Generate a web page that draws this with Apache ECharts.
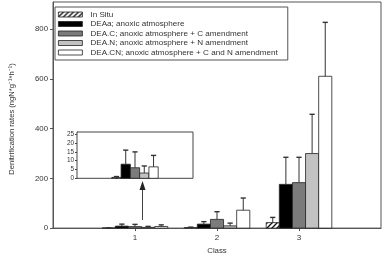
<!DOCTYPE html>
<html>
<head>
<meta charset="utf-8">
<script src="https://cdn.jsdelivr.net/npm/echarts@6/dist/echarts.min.js"></script>
<style>
html,body{margin:0;padding:0;background:#fff;}
#chart{width:384px;height:260px;}
</style>
</head>
<body>
<div id="chart"></div>
<script>
// classes on the x axis
var classes = [1, 2, 3];
var seriesNames = ['In Situ', 'DEAa; anoxic atmosphere', 'DEA.C; anoxic atmosphere + C amendment',
	'DEA.N; anoxic atmosphere + N amendment', 'DEA.CN; anoxic atmosphere + C and N amendment'];

// mean values per class
var inSitu = [0.5, 2, 22];
var deaA   = [8, 16, 176];
var deaC   = [6, 35, 183];
var deaN   = [3, 9, 300];
var deaCN  = [6.5, 72, 611];

// top of the error bar per class
var inSituTop = [1, 4, 43];
var deaATop   = [16, 26, 285];
var deaCTop   = [15, 66, 285];
var deaNTop   = [7, 20, 458];
var deaCNTop  = [13, 121, 828];

var yTicks = [0, 200, 400, 600, 800];
var insetTicks = [0, 5, 10, 15, 20, 25];

//斜线填充
function hatch(){
	var c = document.createElement('canvas');
	c.width = 5; c.height = 5;
	var g = c.getContext('2d');
	g.fillStyle = '#fff';
	g.fillRect(0, 0, 5, 5);
	g.strokeStyle = '#111';
	g.lineWidth = 1.3;
	g.beginPath();
	g.moveTo(0, 5); g.lineTo(5, 0);
	g.moveTo(-1, 1); g.lineTo(1, -1);
	g.moveTo(4, 6); g.lineTo(6, 4);
	g.stroke();
	return c;
}

var fills = [{image: hatch(), repeat: 'repeat'}, '#000000', '#7b7b7b', '#c2c2c2', '#ffffff'];
var values = [inSitu, deaA, deaC, deaN, deaCN];
var tops = [inSituTop, deaATop, deaCTop, deaNTop, deaCNTop];
var barW = 0.16;

function makeRender(k){
	return function(params, api){
		var x = api.value(0) + (k - 2) * barW;
		var v = api.value(1);
		var t = api.value(2);
		var p0 = api.coord([x - barW / 2, v]);
		var p1 = api.coord([x + barW / 2, 0]);
		var pt = api.coord([x, t]);
		var pv = api.coord([x, v]);
		var cap = 2.6;
		return {
			type: 'group',
			children: [{
				type: 'rect',
				shape: {x: p0[0], y: p0[1], width: p1[0] - p0[0], height: p1[1] - p0[1]},
				style: {fill: fills[k], stroke: '#222', lineWidth: 0.8}
			}, {
				type: 'line',
				shape: {x1: pv[0], y1: pv[1], x2: pt[0], y2: pt[1]},
				style: {stroke: '#333', lineWidth: 1}
			}, {
				type: 'line',
				shape: {x1: pt[0] - cap, y1: pt[1], x2: pt[0] + cap, y2: pt[1]},
				style: {stroke: '#333', lineWidth: 1.4}
			}]
		};
	};
}

var series = [];
for (var k = 0; k < 5; k++) {
	var d = [];
	for (var i = 0; i < classes.length; i++) {
		d.push([classes[i], values[k][i], tops[k][i]]);
	}
	series.push({
		name: seriesNames[k],
		type: 'custom',
		xAxisIndex: 0, yAxisIndex: 0,
		itemStyle: {color: fills[k]},
		renderItem: makeRender(k),
		data: d,
		z: 2
	});
	// inset: class 1 only
	series.push({
		name: seriesNames[k],
		type: 'custom',
		xAxisIndex: 1, yAxisIndex: 1,
		itemStyle: {color: fills[k]},
		renderItem: makeRender(k),
		data: [d[0]],
		z: 6
	});
}

var font = 'Liberation Sans, Arial, sans-serif';

option = {
	animation: false,
	textStyle: {fontFamily: font},
	grid: [{
		left: 44, right: 3, top: 2, bottom: 27,
		show: true, borderColor: '#555', borderWidth: 1
	}, {
		left: 77, top: 132, width: 116, height: 46.3,
		show: true, borderColor: '#444', borderWidth: 1, backgroundColor: '#fff', z: 5
	}],
	legend: {
		data: seriesNames,
		orient: 'vertical',
		left: 55, top: 7,
		icon: 'rect',
		itemWidth: 24, itemHeight: 5,
		itemGap: 0.5,
		padding: [3, 10, 3, 3],
		backgroundColor: '#fff',
		borderColor: '#555', borderWidth: 1,
		itemStyle: {borderColor: '#222', borderWidth: 0.8},
		textStyle: {fontSize: 8.1, color: '#333', lineHeight: 9, padding: [0, 0, 0, 3], fontFamily: font},
		selectedMode: false
	},
	xAxis: [{
		gridIndex: 0, type: 'value', min: 0, max: 4, interval: 1,
		name: 'Class', nameLocation: 'middle', nameGap: 18,
		nameTextStyle: {fontSize: 7.8, color: '#333'},
		axisLine: {lineStyle: {color: '#555'}},
		axisTick: {customValues: classes, length: 3, lineStyle: {color: '#555'}},
		axisLabel: {customValues: classes, fontSize: 8, color: '#333', margin: 6},
		splitLine: {show: false}
	}, {
		gridIndex: 1, type: 'value', min: 0, max: 2,
		axisLine: {show: false}, axisTick: {show: false}, axisLabel: {show: false},
		splitLine: {show: false}
	}],
	yAxis: [{
		gridIndex: 0, type: 'value', min: 0, max: 910, interval: 200,
		name: 'Denitrification rates (ngN*g⁻¹*h⁻¹)', nameLocation: 'middle', nameGap: 37,
		nameTextStyle: {fontSize: 7.6, color: '#333', padding: [0, 0, 0, -8]},
		axisLine: {show: true, lineStyle: {color: '#555'}},
		axisTick: {customValues: yTicks, length: 3, lineStyle: {color: '#555'}},
		axisLabel: {customValues: yTicks, fontSize: 7.8, color: '#333', margin: 5},
		splitLine: {show: false}
	}, {
		gridIndex: 1, type: 'value', min: 0, max: 26.3, interval: 5,
		axisLine: {show: true, lineStyle: {color: '#444'}},
		axisTick: {customValues: insetTicks, length: 2, lineStyle: {color: '#444'}},
		axisLabel: {customValues: insetTicks, fontSize: 6.4, color: '#333', margin: 3, lineHeight: 7},
		splitLine: {show: false}
	}],
	graphic: [{
		type: 'line', z: 10,
		shape: {x1: 142.5, y1: 220, x2: 142.5, y2: 188},
		style: {stroke: '#444', lineWidth: 1}
	}, {
		type: 'polygon', z: 10,
		shape: {points: [[142.5, 181], [139.5, 190], [145.5, 190]]},
		style: {fill: '#222'}
	}],
	series: series
};

var chart = echarts.init(document.getElementById('chart'));
chart.setOption(option, true);
</script>
</body>
</html>
